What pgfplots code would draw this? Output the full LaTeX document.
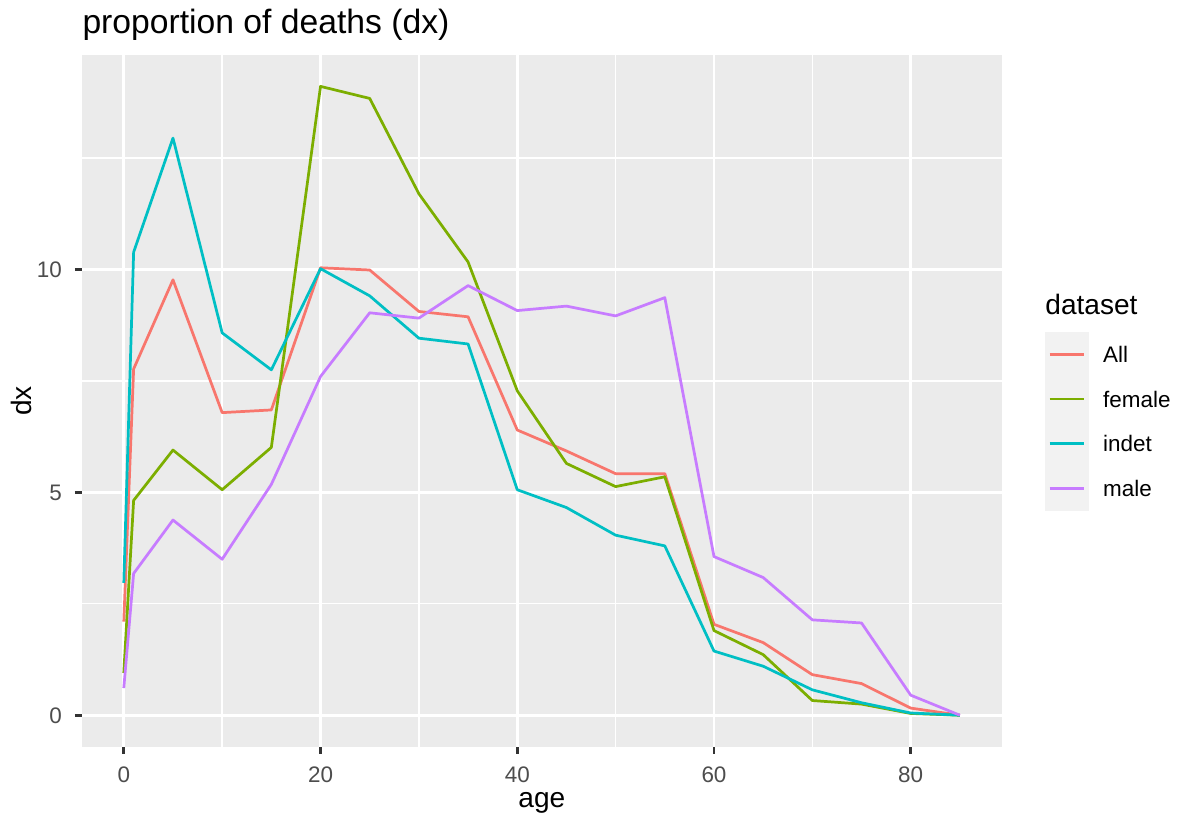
\documentclass[border=0pt]{standalone}
\usepackage{fontspec}
\setmainfont{Liberation Sans}
\usepackage{pgfplots}
\usepackage{pgfplotstable}
\pgfplotsset{compat=1.18}
\definecolor{cAll}{HTML}{F8766D}
\definecolor{cFemale}{HTML}{7CAE00}
\definecolor{cIndet}{HTML}{00BFC4}
\definecolor{cMale}{HTML}{C77CFF}
\definecolor{panelbg}{HTML}{EBEBEB}
\definecolor{keybg}{HTML}{F2F2F2}
\definecolor{tickcol}{HTML}{333333}
\definecolor{ticklab}{HTML}{4D4D4D}

\pgfplotstableread{
age All female indet male
0 2.10 0.95 2.97 0.61
1 7.77 4.82 10.39 3.18
5 9.77 5.95 12.95 4.38
10 6.79 5.06 8.58 3.50
15 6.85 6.01 7.75 5.18
20 10.04 14.11 10.02 7.60
25 9.99 13.84 9.41 9.03
30 9.06 11.70 8.46 8.91
35 8.94 10.17 8.33 9.64
40 6.40 7.28 5.06 9.08
45 5.93 5.65 4.66 9.18
50 5.42 5.13 4.04 8.96
55 5.42 5.35 3.80 9.37
60 2.04 1.90 1.44 3.56
65 1.63 1.36 1.10 3.09
70 0.91 0.33 0.57 2.14
75 0.71 0.25 0.28 2.07
80 0.16 0.04 0.05 0.45
85 0.00 0.00 0.00 0.00
}\dxdata

\begin{document}
\begin{tikzpicture}
\path[use as bounding box, fill=white] (0,0) rectangle (462.56pt,319.87pt);
\begin{axis}[
  at={(32.14pt,27.17pt)}, anchor=south west,
  scale only axis, width=360.52pt, height=271.15pt,
  xmin=-4.25, xmax=89.25, ymin=-0.7055, ymax=14.8155,
  axis background/.style={fill=panelbg},
  axis line style={draw=none},
  xtick={0,20,40,60,80}, minor xtick={10,30,50,70},
  ytick={0,5,10}, minor ytick={2.5,7.5,12.5},
  grid=both,
  major grid style={white, line width=1.07pt},
  minor grid style={white, line width=0.53pt},
  tick align=outside, xtick pos=bottom, ytick pos=left,
  major tick length=2.75pt, minor tick length=0pt,
  tick style={color=tickcol, line width=1.07pt},
  /pgf/number format/assume math mode=true,
  xticklabel style={font=\fontsize{8.8}{10}\selectfont, text=ticklab, inner sep=0pt, text height=6.3pt, text depth=0pt, anchor=north, yshift=-4.95pt},
  yticklabel style={font=\fontsize{8.8}{10}\selectfont, text=ticklab, inner sep=0pt, text height=6.3pt, text depth=0pt, anchor=east, xshift=-4.95pt},
  legend style={at={(1.046,0.600)}, anchor=north west, draw=none, fill=none, inner sep=0pt, row sep=0pt, column sep=5.4pt, cells={anchor=west}, nodes={inner sep=0pt, text depth=0pt, text height=6.3pt, font=\fontsize{8.8}{10}\selectfont, text=black}},
  legend image code/.code={\path[fill=keybg, draw=none] (0pt,-8.75pt) rectangle (17.6pt,8.75pt); \draw[#1] (1.96pt,0pt) -- (15.64pt,0pt);},
  every axis plot/.append style={line width=1.07pt, no markers, line join=round},
]
\addplot[cAll] table[x=age, y=All] {\dxdata};
\addlegendentry{All}
\addplot[cFemale] table[x=age, y=female] {\dxdata};
\addlegendentry{female}
\addplot[cIndet] table[x=age, y=indet] {\dxdata};
\addlegendentry{indet}
\addplot[cMale] table[x=age, y=male] {\dxdata};
\addlegendentry{male}
\end{axis}
\node[anchor=base west, inner sep=0pt, font=\fontsize{13.2}{15}\selectfont] at (32.14pt,306.9pt) {proportion of deaths (dx)};
\node[anchor=base, inner sep=0pt, font=\fontsize{11}{13}\selectfont] at (212.4pt,3.14pt) {age};
\node[anchor=base, rotate=90, inner sep=0pt, font=\fontsize{11}{13}\selectfont] at (12.54pt,162.7pt) {dx};
\node[anchor=base west, inner sep=0pt, font=\fontsize{11}{13}\selectfont] at (409.6pt,196.4pt) {dataset};
\end{tikzpicture}
\end{document}
